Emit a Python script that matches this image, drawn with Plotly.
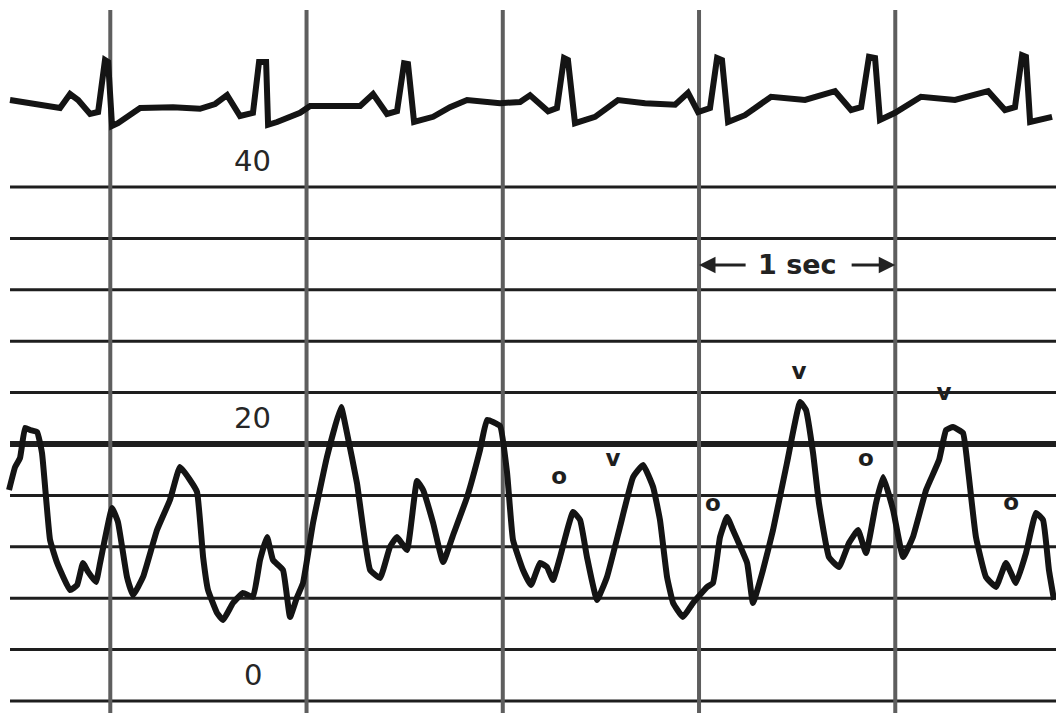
import plotly.graph_objects as go

# ---------------- data ----------------
# ECG trace (time in s, amplitude in mV relative to baseline)
ecg_t = [0.489, 0.642, 0.744, 0.795, 0.836, 0.897, 0.938, 0.973, 0.989, 1.009, 1.039,
         1.152, 1.320, 1.457, 1.534, 1.595, 1.661, 1.727, 1.758, 1.794, 1.804, 1.850,
         1.967, 2.018, 2.273, 2.339, 2.410, 2.461, 2.497, 2.517, 2.548, 2.645, 2.731,
         2.818, 2.986, 3.088, 3.139, 3.231, 3.276, 3.312, 3.332, 3.368, 3.470, 3.587,
         3.725, 3.878, 3.944, 3.995, 4.056, 4.092, 4.117, 4.148, 4.234, 4.367, 4.540,
         4.693, 4.775, 4.826, 4.866, 4.897, 4.922, 4.999, 5.131, 5.304, 5.473, 5.559,
         5.610, 5.646, 5.666, 5.687, 5.799]
ecg_mv = [0.10, 0.00, -0.10, 0.25, 0.10, -0.25, -0.20, 1.10, 1.05, -0.55, -0.48,
          -0.10, -0.08, -0.12, 0.00, 0.22, -0.30, -0.22, 1.05, 1.05, -0.52, -0.45,
          -0.22, -0.05, -0.05, 0.25, -0.25, -0.18, 1.02, 1.00, -0.45, -0.32, -0.08,
          0.10, 0.02, 0.05, 0.22, -0.18, -0.10, 1.15, 1.10, -0.48, -0.32, 0.10,
          0.02, -0.02, 0.28, -0.20, -0.10, 1.15, 1.10, -0.45, -0.28, 0.18, 0.10,
          0.32, -0.15, -0.08, 1.18, 1.15, -0.40, -0.22, 0.18, 0.10, 0.32, -0.15,
          -0.08, 1.22, 1.18, -0.45, -0.32]

# Pressure trace (time in s, mmHg)
p_t = [0.484, 0.515, 0.540, 0.566, 0.591, 0.627, 0.652, 0.693, 0.729, 0.795, 0.831,
       0.861, 0.887, 0.927, 0.948, 1.009, 1.039, 1.085, 1.116, 1.167, 1.238, 1.304,
       1.355, 1.406, 1.442, 1.473, 1.498, 1.544, 1.575, 1.625, 1.676, 1.727, 1.763,
       1.799, 1.829, 1.880, 1.916, 1.952, 1.982, 2.033, 2.104, 2.176, 2.206, 2.257,
       2.324, 2.375, 2.425, 2.461, 2.512, 2.563, 2.594, 2.645, 2.696, 2.747, 2.818,
       2.884, 2.920, 2.986, 3.022, 3.052, 3.103, 3.144, 3.190, 3.225, 3.256, 3.292,
       3.358, 3.394, 3.429, 3.480, 3.531, 3.597, 3.664, 3.715, 3.766, 3.801, 3.837,
       3.868, 3.918, 3.969, 4.041, 4.071, 4.107, 4.143, 4.173, 4.245, 4.275, 4.326,
       4.377, 4.448, 4.515, 4.545, 4.581, 4.611, 4.662, 4.713, 4.764, 4.810, 4.851,
       4.902, 4.938, 4.989, 5.040, 5.090, 5.157, 5.223, 5.259, 5.294, 5.345, 5.371,
       5.411, 5.462, 5.513, 5.564, 5.615, 5.666, 5.717, 5.753, 5.783, 5.809]
p_mmhg = [16.42, 18.21, 18.91, 21.25, 21.09, 20.93, 19.30, 12.53, 10.74, 8.63, 9.02,
          10.74, 10.04, 9.26, 10.74, 15.02, 13.93, 9.65, 8.24, 9.65, 13.30, 15.64,
          18.21, 17.20, 16.26, 11.20, 8.63, 6.84, 6.30, 7.62, 8.40, 8.09, 10.97,
          12.76, 10.97, 10.19, 6.53, 8.09, 9.18, 13.85, 18.99, 22.88, 20.86, 16.96,
          10.19, 9.57, 11.98, 12.76, 11.75, 17.12, 16.42, 13.85, 10.81, 12.92, 15.87,
          19.53, 21.87, 21.40, 17.74, 12.53, 10.19, 9.02, 10.74, 10.42, 9.41, 11.20,
          14.71, 14.08, 11.20, 7.86, 9.65, 13.54, 17.43, 18.37, 16.65, 14.08, 9.65,
          7.62, 6.53, 7.62, 8.87, 9.18, 12.76, 14.32, 13.30, 10.74, 7.62, 10.19,
          13.30, 18.52, 23.27, 22.65, 19.30, 15.41, 11.20, 10.42, 12.29, 13.30, 11.51,
          15.41, 17.43, 14.86, 11.20, 12.76, 16.42, 18.75, 21.09, 21.32, 20.86, 17.98,
          12.76, 9.65, 8.87, 10.74, 9.18, 11.51, 14.63, 14.08, 10.19, 7.86]

# Marks written on the tracing
mark_t = [3.287, 3.562, 4.071, 4.510, 4.851, 5.248, 5.590]
mark_v = [17.30, 18.70, 15.20, 25.50, 18.70, 23.90, 15.30]
mark_txt = ["o", "v", "o", "v", "o", "v", "o"]

# Scale labels (mmHg)
scale_labels = ["40", "20", "0"]
scale_vals = [40, 20, 0]

# Chart paper grid
h_levels = [0, 4, 8, 12, 16, 20, 24, 28, 32, 36, 40]
v_seconds = [1, 2, 3, 4, 5]

# ---------------- figure ----------------
X_RANGE = [0.438, 5.819]
Y_RANGE = [-0.942, 54.566]
Y2_RANGE = [-15.225, 2.6]
PAPER_LEFT = 0.489
PAPER_TOP = 53.79

fig = go.Figure()

fig.add_trace(go.Scatter(x=p_t, y=p_mmhg, mode="lines",
                         line=dict(color="#141414", width=6, shape="spline", smoothing=0.35),
                         hoverinfo="skip", showlegend=False))
fig.add_trace(go.Scatter(x=ecg_t, y=ecg_mv, mode="lines", yaxis="y2",
                         line=dict(color="#141414", width=6),
                         hoverinfo="skip", showlegend=False))
fig.add_trace(go.Scatter(x=mark_t, y=mark_v, mode="text", text=mark_txt,
                         textfont=dict(family="DejaVu Sans", size=23, color="#1e1e1e",
                                       weight="bold"),
                         textposition="middle center",
                         hoverinfo="skip", showlegend=False))

shapes = []
for v in h_levels:
    shapes.append(dict(type="line", xref="x", yref="y", x0=PAPER_LEFT, x1=X_RANGE[1],
                       y0=v, y1=v, layer="below",
                       line=dict(color="#1e1e1e", width=6 if v == 20 else 3)))
for s in v_seconds:
    shapes.append(dict(type="line", xref="x", yref="y", x0=s, x1=s,
                       y0=Y_RANGE[0], y1=PAPER_TOP, layer="below",
                       line=dict(color="#5e5e5e", width=4)))

annotations = []
for lab, val in zip(scale_labels, scale_vals):
    annotations.append(dict(x=1.725, y=val + 2.0, xref="x", yref="y", text=lab,
                            showarrow=False,
                            font=dict(family="DejaVu Sans", size=29, color="#262626")))
annotations.append(dict(x=4.504, y=33.94, xref="x", yref="y", text="<b>1 sec</b>",
                        showarrow=False,
                        font=dict(family="DejaVu Sans", size=27, color="#222")))
annotations.append(dict(x=4.0, y=33.94, ax=4.245, ay=33.94, xref="x", yref="y",
                        axref="x", ayref="y", text="", showarrow=True,
                        arrowhead=2, arrowsize=1.1, arrowwidth=3, arrowcolor="#222"))
annotations.append(dict(x=5.0, y=33.94, ax=4.77, ay=33.94, xref="x", yref="y",
                        axref="x", ayref="y", text="", showarrow=True,
                        arrowhead=2, arrowsize=1.1, arrowwidth=3, arrowcolor="#222"))

fig.update_layout(
    width=1056, height=713,
    margin=dict(l=0, r=0, t=0, b=0),
    paper_bgcolor="white", plot_bgcolor="white",
    shapes=shapes, annotations=annotations,
    xaxis=dict(range=X_RANGE, visible=False, fixedrange=True),
    yaxis=dict(range=Y_RANGE, visible=False, fixedrange=True),
    yaxis2=dict(range=Y2_RANGE, overlaying="y", visible=False, fixedrange=True),
)

fig.write_html("out.html", config={"displayModeBar": False},
               post_script="document.body.style.margin='0';document.body.style.overflow='hidden';")
